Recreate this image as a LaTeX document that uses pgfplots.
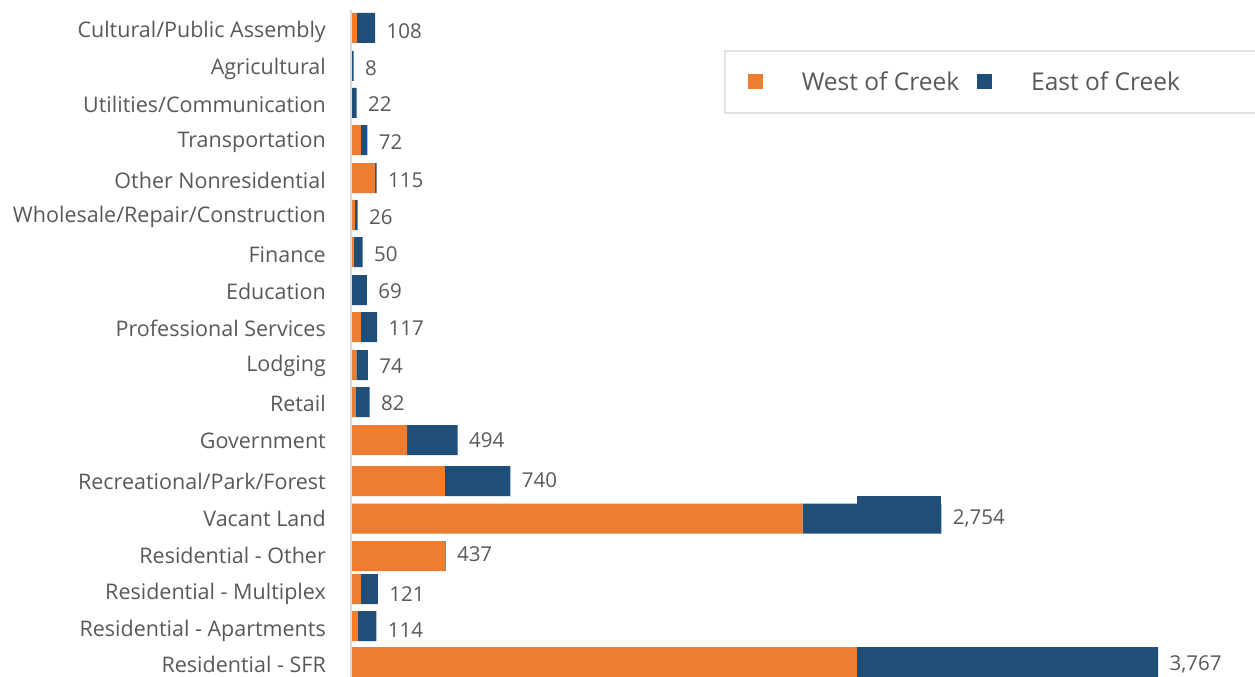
\documentclass[border=0pt]{standalone}
\usepackage{fontspec}
\setmainfont{Open Sans}
\usepackage{pgfplots}
\pgfplotsset{compat=1.18}
\definecolor{westc}{HTML}{ED7D31}
\definecolor{eastc}{HTML}{1F4E79}
\definecolor{txt}{HTML}{595959}
\begin{document}
\begin{tikzpicture}[x=1bp,y=1bp]
\pgfplotsset{base/.style={scale only axis, width=903bp, height=677bp,
  xmin=0, xmax=4220, ymin=0, ymax=677, y dir=reverse,
  at={(352bp,0bp)}, anchor=south west, axis line style={draw=none},
  xtick=\empty, major tick length=0pt, clip=false}}
\begin{axis}[base,
  xbar stacked, bar width=30,
  ytick={30,67,103,141,179,215,253,290,327,364,402,439,480,517,554,592,629,663},
  yticklabels={Cultural/Public Assembly, Agricultural, Utilities/Communication, Transportation, Other Nonresidential, Wholesale/Repair/Construction, Finance, Education, Professional Services, Lodging, Retail, Government, Recreational/Park/Forest, Vacant Land, Residential - Other, {Residential - Multiplex\hspace{5bp}}, Residential - Apartments, Residential - SFR},
  yticklabel style={font=\fontsize{21.5bp}{25bp}\selectfont, text=txt, inner sep=0pt, xshift=-26bp, yshift=-1.5bp},
  legend columns=2,
  legend style={at={(0.412,0.926)}, anchor=north west, draw=gray!22, line width=1.5bp,
    font=\fontsize{24.5bp}{29bp}\selectfont, text=txt, inner xsep=23bp, inner ysep=19bp,
    /tikz/every odd column/.append style={column sep=37bp},
    /tikz/every even column/.append style={column sep=16bp}},
  legend image code/.code={\fill[#1, draw=none] (0bp,-7.5bp) rectangle (15bp,7.5bp);},
]
\addplot[fill=westc, draw=none] coordinates {
(23,28) (0,66) (0,103) (42,140) (108,178) (13,215) (8,252) (0,290) (42,327) (20,365) (18,402) (258,440) (434,481) (2106,518.5) (435,556) (41,589) (27,626) (2360,662)};
\addlegendentry{West of Creek}
\addplot[fill=eastc, draw=none] coordinates {
(85,28) (8,66) (22,103) (30,140) (7,178) (13,215) (42,252) (69,290) (75,327) (54,365) (64,402) (236,440) (306,481) (648,518.5) (2,556) (80,589) (87,626) (1407,662)};
\addlegendentry{East of Creek\hspace*{140bp}}
\end{axis}
\begin{axis}[base, ytick=\empty, hide axis]
\addplot[fill=eastc, draw=none] coordinates {(2360,496) (2754,496) (2754,506) (2360,506)} -- cycle;
\addplot[only marks, mark=none, nodes near coords, point meta=explicit symbolic,
  every node near coord/.append style={anchor=west, font=\fontsize{20.5bp}{24bp}\selectfont, text=txt, xshift=8bp}] coordinates {
(108,31) [108] (8,68) [8] (22,104) [22] (72,142) [72] (115,180) [115] (26,217) [26] (50,254) [50] (69,291) [69] (117,328) [117] (74,366) [74] (82,403) [82] (494,440) [494] (740,480) [740] (2754,518) [{2,754}] (437,554) [437] (121,594) [121] (114,630) [114] (3767,664) [{3,767}]};
\end{axis}
\draw[gray!30, line width=2bp] (351bp,0bp) -- (351bp,667bp);
\pgfresetboundingbox
\path (0bp,0bp) rectangle (1255bp,677bp);
\end{tikzpicture}
\end{document}
